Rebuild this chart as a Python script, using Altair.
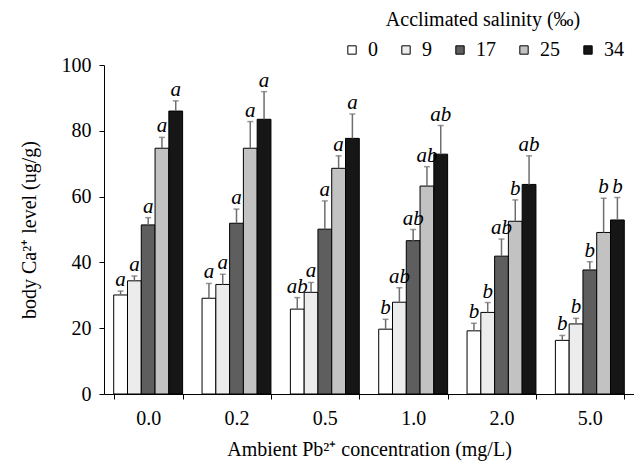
import altair as alt
import pandas as pd

conc = ["0.0", "0.2", "0.5", "1.0", "2.0", "5.0"]
salinity = ["0", "9", "17", "25", "34"]

means = {
    "0":  [30.1, 29.1, 25.8, 19.7, 19.2, 16.3],
    "9":  [34.4, 33.3, 30.9, 27.9, 24.8, 21.3],
    "17": [51.4, 51.9, 50.1, 46.6, 41.9, 37.7],
    "25": [74.7, 74.7, 68.6, 63.2, 52.5, 49.1],
    "34": [86.0, 83.5, 77.7, 72.9, 63.7, 52.9],
}
errors = {
    "0":  [1.2, 4.5, 3.5, 3.0, 2.3, 1.5],
    "9":  [1.5, 3.1, 3.0, 4.4, 3.0, 1.7],
    "17": [2.2, 4.3, 8.6, 3.4, 5.2, 2.5],
    "25": [3.3, 8.1, 3.8, 5.9, 6.5, 10.4],
    "34": [3.1, 8.4, 7.4, 8.7, 8.7, 6.8],
}
letters = {
    "0":  ["a", "a", "ab", "b", "b", "b"],
    "9":  ["a", "a", "a", "ab", "b", "b"],
    "17": ["a", "a", "a", "ab", "ab", "b"],
    "25": ["a", "a", "a", "ab", "b", "b"],
    "34": ["a", "a", "a", "ab", "ab", "b"],
}
fills = ["#ffffff", "#ececec", "#5e5e5e", "#c2c2c2", "#161616"]

rows = []
for s in salinity:
    for i, c in enumerate(conc):
        m = means[s][i]
        e = errors[s][i]
        rows.append({"conc": c, "sal": s, "mean": m, "top": m + e, "lab": letters[s][i]})
df = pd.DataFrame(rows)

FONT = "Liberation Serif"

x = alt.X("conc:N", sort=conc,
          scale=alt.Scale(paddingInner=0.22, paddingOuter=0.11),
          axis=alt.Axis(title="Ambient Pb²⁺ concentration (mg/L)", labelAngle=0,
                        tickBand="extent", tickSize=5, labelPadding=9,
                        titlePadding=11, domainColor="black", tickColor="black",
                        labelFont=FONT, titleFont=FONT, labelFontSize=20, titleFontSize=20))
xo = alt.XOffset("sal:N", sort=salinity, scale=alt.Scale(paddingInner=0, paddingOuter=0))
yscale = alt.Scale(domain=[0, 100])

base = alt.Chart(df)

bars = base.mark_bar(stroke="black", strokeWidth=1).encode(
    x=x, xOffset=xo,
    y=alt.Y("mean:Q", scale=yscale,
            axis=alt.Axis(title="body Ca²⁺ level (ug/g)", values=[0, 20, 40, 60, 80, 100],
                          grid=False, tickSize=5, labelPadding=8, titlePadding=22,
                          domainColor="black", tickColor="black",
                          labelFont=FONT, titleFont=FONT, labelFontSize=20, titleFontSize=20)),
    fill=alt.Fill("sal:N", sort=salinity,
                  scale=alt.Scale(domain=salinity, range=fills),
                  legend=alt.Legend(title="Acclimated salinity (‰)", orient="none",
                                    direction="horizontal", legendX=238, legendY=-55,
                                    titleAnchor="middle", titleFontSize=20, titleFont=FONT,
                                    titleFontWeight="normal", titlePadding=10, titleLimit=400,
                                    labelFontSize=20, labelFont=FONT, labelOffset=6,
                                    symbolType="square", symbolSize=70,
                                    symbolStrokeColor="black", symbolStrokeWidth=1,
                                    columnPadding=18, gridAlign="none")),
)

rules = base.mark_rule(color="#6e6e6e", strokeWidth=1.5).encode(
    x=x, xOffset=xo, y=alt.Y("mean:Q", scale=yscale), y2="top:Q")

caps = base.mark_tick(color="#6e6e6e", thickness=1.5, size=6, orient="horizontal").encode(
    x=x, xOffset=xo, y=alt.Y("top:Q", scale=yscale))

text = base.mark_text(font=FONT, fontStyle="italic", fontSize=21, baseline="bottom", dy=-1,
                      color="black").encode(
    x=x, xOffset=xo, y=alt.Y("top:Q", scale=yscale), text="lab:N")

chart = alt.layer(bars, rules, caps, text).properties(
    width=530, height=329,
    autosize=alt.AutoSizeParams(type="none"),
    padding={"left": 96, "top": 57, "right": 0, "bottom": 68},
).configure(font=FONT).configure_view(stroke=None).configure_axis(
    labelFont=FONT, titleFont=FONT, labelFontSize=20, titleFontSize=20,
    titleFontWeight="normal", labelColor="black", titleColor="black",
).configure_legend(labelColor="black", titleColor="black", labelFont=FONT, titleFont=FONT)

chart.save("out.html", embed_options={"renderer": "svg", "actions": False})
